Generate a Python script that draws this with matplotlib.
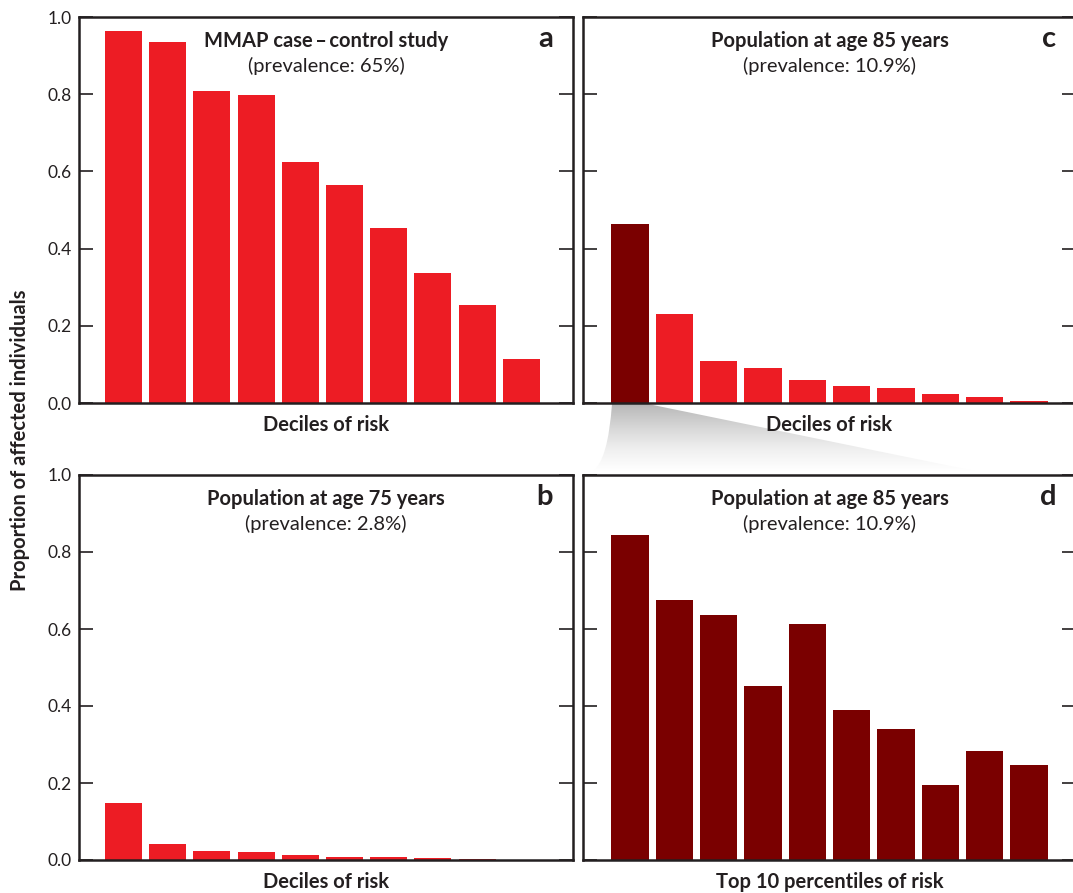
import numpy as np
import matplotlib.pyplot as plt
from matplotlib.path import Path
from matplotlib.patches import PathPatch

plt.rcParams['font.family'] = ['Lato', 'DejaVu Sans']

deciles = np.arange(1, 11)
mmap_vals = [0.964, 0.935, 0.808, 0.798, 0.624, 0.565, 0.453, 0.337, 0.254, 0.114]
age75_vals = [0.148, 0.042, 0.023, 0.021, 0.013, 0.008, 0.008, 0.005, 0.002, 0.0]
age85_vals = [0.464, 0.231, 0.109, 0.091, 0.060, 0.044, 0.039, 0.023, 0.016, 0.005]
top10_vals = [0.844, 0.675, 0.636, 0.452, 0.613, 0.390, 0.340, 0.195, 0.283, 0.247]

yticks = [0.0, 0.2, 0.4, 0.6, 0.8, 1.0]

red = '#ed1c24'
dark = '#7a0000'
ink = '#231f20'

W, H = 1073, 893
fig = plt.figure(figsize=(W / 100, H / 100), dpi=100)


def px_axes(x0, x1, y0, y1):
    # pixel box (top-left origin) -> figure fraction
    return fig.add_axes([x0 / W, 1 - y1 / H, (x1 - x0) / W, (y1 - y0) / H])


panels = [
    # (box, values, colours, title, prevalence, letter, xlabel, left)
    ((79, 573, 17, 403), mmap_vals, [red] * 10,
     'MMAP case\u2009\u2013\u2009control study', '(prevalence: 65%)', 'a', 'Deciles of risk', True),
    ((583, 1076, 17, 403), age85_vals, [dark] + [red] * 9,
     'Population at age 85 years', '(prevalence: 10.9%)', 'c', 'Deciles of risk', False),
    ((79, 573, 475, 860), age75_vals, [red] * 10,
     'Population at age 75 years', '(prevalence: 2.8%)', 'b', 'Deciles of risk', True),
    ((583, 1076, 475, 860), top10_vals, [dark] * 10,
     'Population at age 85 years', '(prevalence: 10.9%)', 'd', 'Top 10 percentiles of risk', False),
]

for box, vals, cols, title, prev, letter, xlab, left in panels:
    ax = px_axes(*box)
    ax.bar(deciles, vals, width=0.84, color=cols)
    if left:
        ax.set_xlim(-0.007, 11.17)
    else:
        ax.set_xlim(-0.06, 11.06)
    ax.set_ylim(0, 1)
    ax.set_yticks(yticks)
    ax.set_yticklabels([f'{t:.1f}' for t in yticks])
    ax.set_xticks([])
    ax.tick_params(axis='y', direction='in', length=10, width=1.2, color=ink,
                   left=True, right=True, labelleft=left, labelsize=12.5,
                   labelcolor=ink, pad=5)
    for s in ax.spines.values():
        s.set_linewidth(1.8)
        s.set_color(ink)
    ax.text(0.5, 0.922, title, transform=ax.transAxes, ha='center', va='baseline',
            fontsize=14.5, fontweight='bold', color=ink)
    ax.text(0.5, 0.858, prev, transform=ax.transAxes, ha='center', va='baseline',
            fontsize=14.5, color=ink)
    ax.text(0.96, 0.922, letter, transform=ax.transAxes, ha='right', va='baseline',
            fontsize=21, fontweight='bold', color=ink)
    ax.text(0.5, -0.073, xlab, transform=ax.transAxes, ha='center', va='baseline',
            fontsize=14.5, fontweight='bold', color=ink)

fig.text(20 / W, 1 - 440 / H, 'Proportion of affected individuals', rotation=90,
         ha='center', va='center', fontsize=14.5, fontweight='bold', color=ink)

# grey zoom wedge from bar 1 of panel c down to panel d
bg = fig.add_axes([0, 0, 1, 1], zorder=-1)
bg.set_xlim(0, W)
bg.set_ylim(H, 0)
bg.axis('off')
verts = [(612, 404), (648, 404), (975, 471), (593, 471), (608, 460), (612, 404), (612, 404)]
codes = [Path.MOVETO, Path.LINETO, Path.LINETO, Path.LINETO, Path.CURVE3, Path.CURVE3,
         Path.CLOSEPOLY]
wedge = PathPatch(Path(verts, codes), facecolor='none', edgecolor='none')
bg.add_patch(wedge)
grad = np.linspace(0, 1, 256).reshape(-1, 1)
im = bg.imshow(grad, cmap='Greys_r', extent=(590, 980, 471, 404), aspect='auto',
               vmin=-1.5, vmax=1.0, interpolation='bilinear')
im.set_clip_path(wedge)

fig.savefig('out.png', dpi=100)
